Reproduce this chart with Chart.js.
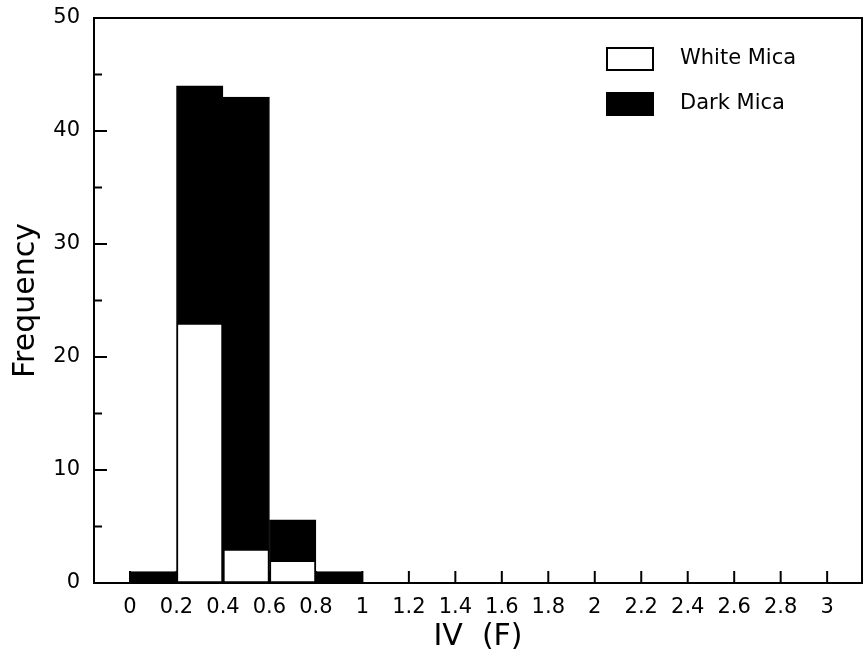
<!DOCTYPE html>
<html><head><meta charset="utf-8">
<script src="https://cdn.jsdelivr.net/npm/chart.js@4/dist/chart.umd.min.js"></script>
<style>html,body{margin:0;padding:0;background:#fff;}</style>
</head><body>
<canvas id="c" width="865" height="665"></canvas>
<script>
// ---- data ----
const binCenters = [0.1, 0.3, 0.5, 0.7, 0.9];
const whiteMica = [0, 23, 3, 2, 0];
const darkMica = [1, 21, 40, 3.6, 1];
const seriesLabels = ['White Mica', 'Dark Mica'];
const xTickValues = [0, 0.2, 0.4, 0.6, 0.8, 1, 1.2, 1.4, 1.6, 1.8, 2, 2.2, 2.4, 2.6, 2.8, 3];
const yTickValues = [0, 5, 10, 15, 20, 25, 30, 35, 40, 45, 50];
const yLabelValues = [0, 10, 20, 30, 40, 50];
const xTitle = 'IV  (F)';
const yTitle = 'Frequency';

const FONT = '"DejaVu Sans", sans-serif';

const inwardTicks = {
  id: 'inwardTicks',
  beforeDatasetsDraw(chart) {
    const {ctx, chartArea: a, scales: {x, y}} = chart;
    ctx.save();
    ctx.strokeStyle = '#000';
    ctx.lineWidth = 2;
    x.ticks.forEach(t => {
      const px = x.getPixelForValue(t.value);
      ctx.beginPath(); ctx.moveTo(px, a.bottom); ctx.lineTo(px, a.bottom - 12); ctx.stroke();
    });
    y.ticks.forEach(t => {
      if (t.value <= y.min || t.value >= y.max) return;
      const py = y.getPixelForValue(t.value);
      const len = yLabelValues.includes(t.value) ? 13 : 8;
      ctx.beginPath(); ctx.moveTo(a.left, py); ctx.lineTo(a.left + len, py); ctx.stroke();
    });
    ctx.restore();
  }
};

const frameAndLegend = {
  id: 'frameAndLegend',
  afterDraw(chart) {
    const {ctx, chartArea: a} = chart;
    ctx.save();
    ctx.strokeStyle = '#000';
    ctx.lineWidth = 2;
    ctx.strokeRect(a.left, a.top, a.right - a.left, a.bottom - a.top);
    const x0 = a.right - 255, y0 = a.top + 30;
    chart.data.datasets.forEach((ds, i) => {
      const by = y0 + i * 45;
      ctx.fillStyle = ds.backgroundColor;
      ctx.fillRect(x0, by, 46, 22);
      ctx.strokeRect(x0, by, 46, 22);
      ctx.fillStyle = '#000';
      ctx.font = '21px ' + FONT;
      ctx.textBaseline = 'middle';
      ctx.textAlign = 'left';
      ctx.fillText(ds.label, x0 + 73, by + 11);
    });
    ctx.restore();
  }
};

new Chart(document.getElementById('c'), {
  type: 'bar',
  data: {
    datasets: [
      {
        label: seriesLabels[0],
        data: binCenters.map((c, i) => ({x: c, y: whiteMica[i]})),
        backgroundColor: '#ffffff',
        borderColor: '#000000',
        borderWidth: 2,
        borderSkipped: false,
        stack: 's',
        barPercentage: 1,
        categoryPercentage: 1
      },
      {
        label: seriesLabels[1],
        data: binCenters.map((c, i) => ({x: c, y: darkMica[i]})),
        backgroundColor: '#000000',
        borderColor: '#000000',
        borderWidth: 1,
        borderSkipped: false,
        stack: 's',
        barPercentage: 1,
        categoryPercentage: 1
      }
    ]
  },
  options: {
    responsive: false,
    animation: false,
    devicePixelRatio: 1,
    layout: {padding: {top: 18, right: 3, left: 0, bottom: 0}},
    plugins: {legend: {display: false}, tooltip: {enabled: false}},
    scales: {
      x: {
        type: 'linear',
        stacked: true,
        offset: false,
        min: -0.155,
        max: 3.15,
        grid: {display: false},
        border: {display: false},
        afterBuildTicks(s) { s.ticks = xTickValues.map(v => ({value: v})); },
        afterFit(s) { s.height = 82; s.paddingLeft = 0; s.paddingRight = 0; },
        ticks: {
          autoSkip: false, maxRotation: 0, minRotation: 0, padding: 4,
          color: '#000', font: {family: FONT, size: 21},
          callback: v => String(Math.round(v * 10) / 10)
        },
        title: {display: true, text: xTitle, color: '#000', font: {family: FONT, size: 30}, padding: {top: 0, bottom: 10}}
      },
      y: {
        type: 'linear',
        stacked: true,
        min: 0,
        max: 50,
        grid: {display: false},
        border: {display: false},
        afterBuildTicks(s) { s.ticks = yTickValues.map(v => ({value: v})); },
        afterFit(s) { s.width = 94; s.paddingTop = 0; s.paddingBottom = 0; },
        ticks: {
          autoSkip: false, padding: 6,
          color: '#000', font: {family: FONT, size: 21},
          callback: v => yLabelValues.includes(v) ? String(v) : ''
        },
        title: {display: true, text: yTitle, color: '#000', font: {family: FONT, size: 30}, padding: {top: 8, bottom: 0}}
      }
    }
  },
  plugins: [inwardTicks, frameAndLegend]
});
</script>
</body></html>
